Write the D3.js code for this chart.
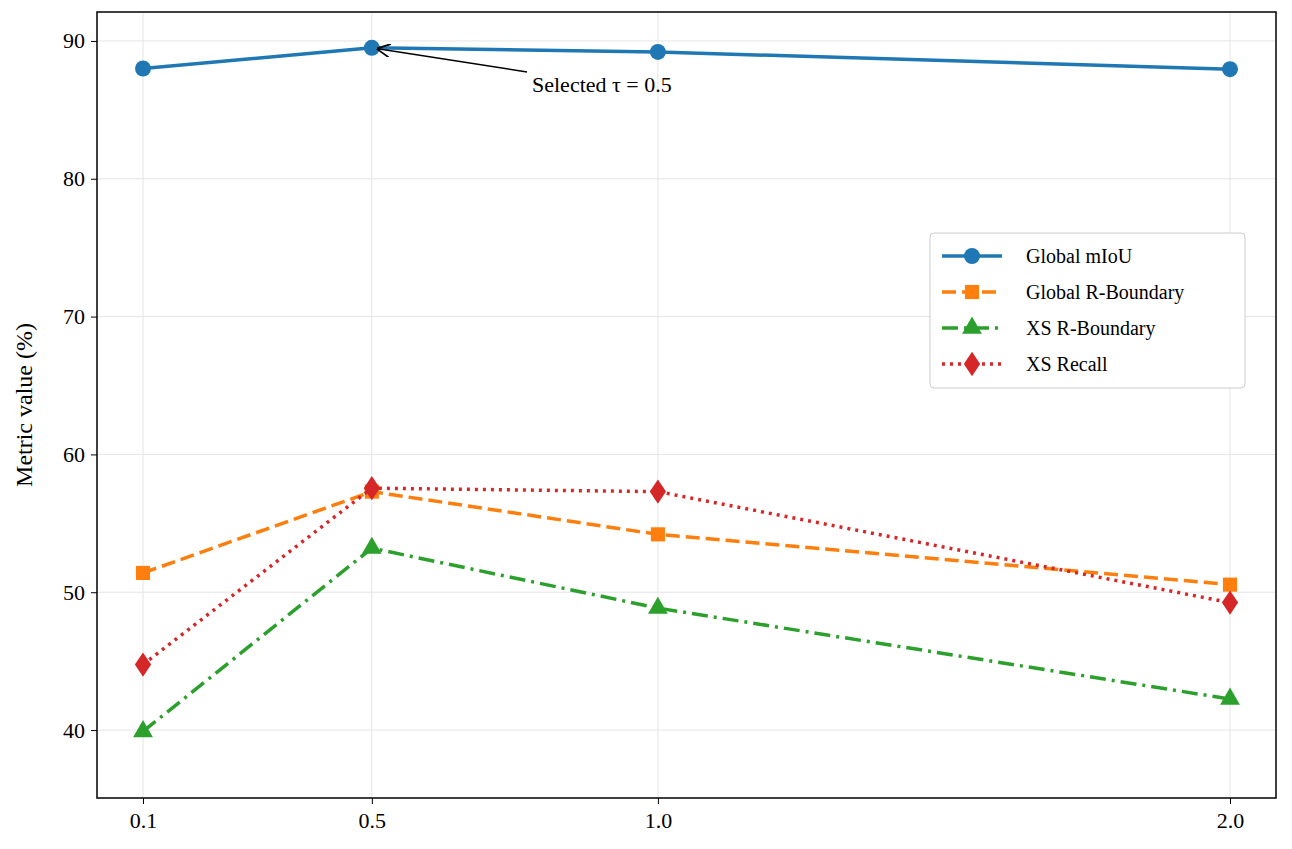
<!DOCTYPE html>
<html><head><meta charset="utf-8">
<script src="https://cdn.jsdelivr.net/npm/d3@7"></script>
<style>body{margin:0;background:#fff}svg text{font-family:"Liberation Serif","DejaVu Serif",serif}</style>
</head><body><svg id="c" width="1292" height="849"></svg>
<script>
const taus=[0.1,0.5,1.0,2.0];
const xTicks=["0.1","0.5","1.0","2.0"];
const yTicks=[40,50,60,70,80,90];
const globalMIoU=[88.0,89.5,89.2,87.95];
const globalRB=[51.4,57.3,54.2,50.55];
const xsRB=[39.9,53.2,48.85,42.25];
const xsRecall=[44.75,57.55,57.3,49.25];
const series=[
 {name:"Global mIoU",v:globalMIoU,c:"#1f77b4",dash:null,m:"circle"},
 {name:"Global R-Boundary",v:globalRB,c:"#ff7f0e",dash:"14,6",m:"square"},
 {name:"XS R-Boundary",v:xsRB,c:"#2ca02c",dash:"16,6,3,6",m:"triangle"},
 {name:"XS Recall",v:xsRecall,c:"#d62728",dash:"3,5",m:"diamond"}];
const L=97,R=1276,T=12,B=798;
const x=d3.scaleLinear().domain([0.0196,2.0804]).range([L,R]);
const y=d3.scaleLinear().domain([35.07,92.1]).range([B,T]);
const svg=d3.select("#c");
const g=svg.append("g");
xTicks.forEach(t=>g.append("line").attr("x1",x(+t)).attr("x2",x(+t)).attr("y1",T).attr("y2",B).attr("stroke","#e5e5e5"));
yTicks.forEach(t=>g.append("line").attr("x1",L).attr("x2",R).attr("y1",y(t)).attr("y2",y(t)).attr("stroke","#e5e5e5"));
const xa=svg.append("g").attr("transform",`translate(0,${B})`).call(d3.axisBottom(x).tickValues(taus).tickFormat((d,i)=>xTicks[i]).tickSize(6).tickPadding(8));
const ya=svg.append("g").attr("transform",`translate(${L},0)`).call(d3.axisLeft(y).tickValues(yTicks).tickSize(6).tickPadding(6));
[xa,ya].forEach(a=>{a.select(".domain").remove();a.selectAll("text").attr("font-size",22).attr("fill","#000").style("font-family","Liberation Serif");a.selectAll("line").attr("stroke","#000");});
svg.append("rect").attr("x",L).attr("y",T).attr("width",R-L).attr("height",B-T).attr("fill","none").attr("stroke","#000").attr("stroke-width",1.5);
svg.append("text").attr("transform",`translate(32,${(T+B)/2}) rotate(-90)`).attr("text-anchor","middle").attr("font-size",24).text("Metric value (%)");
const sym={circle:d3.symbolCircle,square:d3.symbolSquare,triangle:d3.symbolTriangle,diamond:d3.symbolDiamond};
const size={circle:200,square:200,triangle:170,diamond:190};
function marker(sel,m,c,cx,cy,sc){
  sel.append("path").attr("d",d3.symbol(sym[m],size[m]*(sc||1))()).attr("fill",c)
   .attr("transform",`translate(${cx},${cy})`+(m==="diamond"?" scale(1.1,0.95)":""));
}
series.forEach(s=>{
  svg.append("path").datum(s.v).attr("fill","none").attr("stroke",s.c).attr("stroke-width",3.5)
   .attr("stroke-dasharray",s.dash).attr("d",d3.line().x((d,i)=>x(taus[i])).y(d=>y(d)));
  s.v.forEach((d,i)=>marker(svg,s.m,s.c,x(taus[i]),y(d)));
});
// annotation
svg.append("defs").append("marker").attr("id","ah").attr("viewBox","0 0 10 10").attr("refX",9).attr("refY",5)
 .attr("markerWidth",9).attr("markerHeight",9).attr("orient","auto").append("path").attr("d","M0,0L10,5L0,10").attr("fill","none").attr("stroke","#000").attr("stroke-width",1.3);
svg.append("line").attr("x1",527).attr("y1",72).attr("x2",x(0.5)+6).attr("y2",y(89.5)+1).attr("stroke","#000").attr("stroke-width",1.5).attr("marker-end","url(#ah)");
svg.append("text").attr("x",532).attr("y",92).attr("font-size",22).text("Selected τ = 0.5");
// legend
const lg=svg.append("g").attr("transform","translate(930,233)");
lg.append("rect").attr("width",315).attr("height",155).attr("rx",4).attr("fill","#fff").attr("stroke","#ccc");
series.forEach((s,i)=>{
  const yy=23+i*36;
  lg.append("line").attr("x1",12).attr("x2",72).attr("y1",yy).attr("y2",yy).attr("stroke",s.c).attr("stroke-width",3.5).attr("stroke-dasharray",s.dash);
  marker(lg,s.m,s.c,42,yy);
  lg.append("text").attr("x",96).attr("y",yy+7).attr("font-size",20).text(s.name);
});
</script></body></html>
